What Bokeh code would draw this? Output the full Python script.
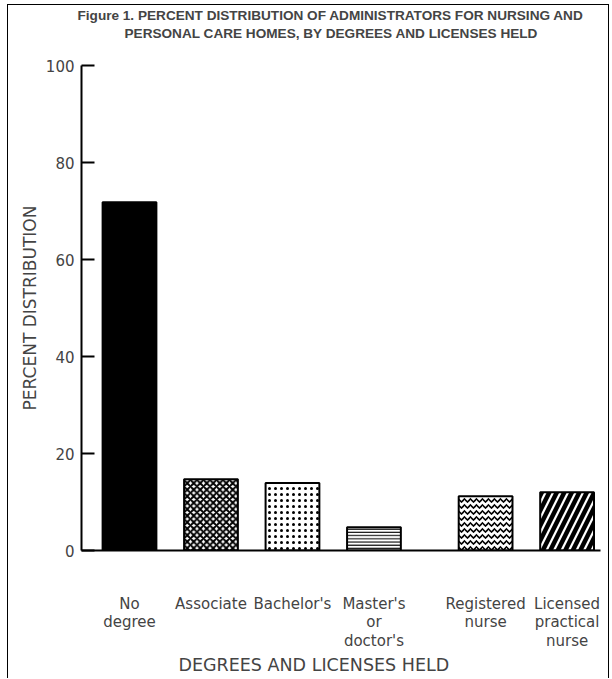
from bokeh.plotting import figure
from bokeh.models import ColumnDataSource, FixedTicker, Range1d, Title
from bokeh.embed import file_html
from bokeh.resources import INLINE

# ---- data ----
categories = ["No degree", "Associate", "Bachelor's", "Master's or doctor's",
              "Registered nurse", "Licensed practical nurse"]
tick_labels = ["No\ndegree", "Associate", "Bachelor's", "Master's\nor\ndoctor's",
               "Registered\nnurse", "Licensed\npractical\nnurse"]
group = ["Degree", "Degree", "Degree", "Degree", "License", "License"]
percent = [71.8, 14.7, 13.9, 4.8, 11.2, 12.0]
y_ticks = [0, 20, 40, 60, 80, 100]

title_line1 = "Figure 1. PERCENT DISTRIBUTION OF ADMINISTRATORS FOR NURSING AND"
title_line2 = "PERSONAL CARE HOMES, BY DEGREES AND LICENSES HELD"
y_title = "PERCENT DISTRIBUTION"
x_title = "DEGREES AND LICENSES HELD"

# ---- layout: positions computed (step 100, extra gap between groups) ----
STEP = 100
GAP = 37
xs = []
pos = 0
for i, g in enumerate(group):
    if i > 0:
        pos += STEP + (GAP if g != group[i - 1] else 0)
    xs.append(pos)

fills = ["black", "white", "white", "white", "white", "white"]
hatches = [" ", "x", ".", "-", "v", "/"]
hscale = [1, 6.5, 6, 3.2, 6, 15]
hweight = [1, 2.0, 3.2, 1.1, 1.6, 4.5]

src = ColumnDataSource(dict(x=xs, top=percent, cat=categories, fill=fills,
                            hatch=hatches, hs=hscale, hw=hweight))

AX_FONT = "DejaVu Sans"

p = figure(width=602, height=674, output_backend="svg", toolbar_location=None,
           x_range=Range1d(-58.9, 578), y_range=Range1d(0, 100),
           min_border_left=73, min_border_right=10, min_border_top=60,
           min_border_bottom=129)
p.background_fill_color = "white"
p.border_fill_color = "white"
p.outline_line_color = None
p.grid.visible = False
p.styles = {"margin-left": "6.5px", "margin-top": "3.5px",
            "border-left": "1.5px solid black", "border-top": "1.5px solid black",
            "border-right": "1.5px solid black"}

p.vbar(x="x", top="top", bottom=0, width=66, source=src,
       fill_color="fill", line_color="black", line_width=2,
       hatch_pattern="hatch", hatch_scale="hs", hatch_weight="hw",
       hatch_color="black")

# titles: main title is outermost; line 2 and a spacer sit between it and the frame
p.title.text = title_line1
p.title.align = "left"
p.title.offset = -4
p.title.text_font = "Liberation Sans"
p.title.text_font_style = "bold"
p.title.text_font_size = "13.6px"
p.title.standoff = 0
spacer = Title(text=" ", text_font_size="1px", standoff=21)
t2 = Title(text=title_line2, align="left", offset=43, text_font="Liberation Sans",
           text_font_style="bold", text_font_size="13.6px", standoff=2)
p.add_layout(spacer, "above")
p.add_layout(t2, "above")

# y axis
ya = p.yaxis[0]
ya.ticker = FixedTicker(ticks=y_ticks)
ya.major_tick_in = 13
ya.major_tick_out = 0
ya.minor_tick_line_color = None
ya.axis_line_width = 2
ya.major_tick_line_width = 2
ya.major_label_text_font = AX_FONT
ya.major_label_text_font_size = "15px"
ya.major_label_standoff = 7
ya.axis_label = y_title
ya.axis_label_text_font = AX_FONT
ya.axis_label_text_font_size = "17px"
ya.axis_label_text_font_style = "normal"
ya.axis_label_standoff = 3

# x axis
xa = p.xaxis[0]
xa.ticker = FixedTicker(ticks=xs)
xa.major_label_overrides = {x: t for x, t in zip(xs, tick_labels)}
xa.major_tick_in = 0
xa.major_tick_out = 0
xa.minor_tick_line_color = None
xa.axis_line_width = 2
xa.major_label_text_font = AX_FONT
xa.major_label_text_font_size = "15px"
xa.major_label_text_line_height = 1.03
xa.major_label_standoff = 44

xt = Title(text=x_title, align="left", offset=97, text_font=AX_FONT,
           text_font_size="17.5px", text_font_style="normal", standoff=0)
p.add_layout(xt, "below")

open("out.html", "w").write(file_html(p, INLINE))
